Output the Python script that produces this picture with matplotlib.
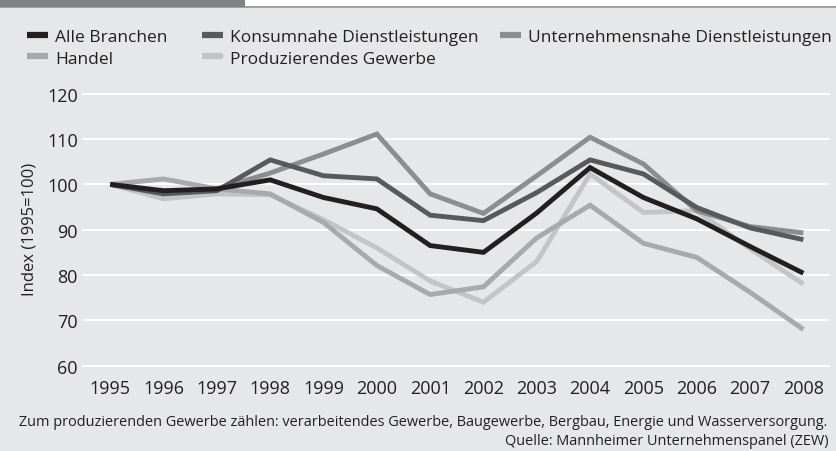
import matplotlib
matplotlib.use("Agg")
import matplotlib.pyplot as plt
from matplotlib.lines import Line2D
from matplotlib.patches import Rectangle

plt.rcParams['font.family'] = ['Open Sans', 'DejaVu Sans']

years = [1995, 1996, 1997, 1998, 1999, 2000, 2001, 2002, 2003, 2004, 2005, 2006, 2007, 2008]
alle = [100, 98.6, 99.0, 101.0, 97.1, 94.6, 86.5, 85.0, 93.7, 103.7, 97.1, 92.4, 86.3, 80.4]
konsum = [100, 97.9, 98.6, 105.4, 101.9, 101.2, 93.2, 92.0, 98.2, 105.4, 102.3, 94.9, 90.4, 87.8]
unternehmen = [100, 98.2, 99.0, 102.5, 106.7, 111.1, 97.9, 93.6, 101.9, 110.4, 104.5, 94.2, 90.7, 89.3]
handel = [100, 101.2, 99.0, 97.9, 91.6, 82.1, 75.7, 77.4, 88.2, 95.4, 87.0, 83.9, 76.2, 68.0]
produz = [100, 96.8, 97.9, 97.7, 92.2, 86.0, 78.7, 74.0, 83.0, 102.3, 93.8, 94.2, 85.8, 78.0]

labels = ["Alle Branchen", "Konsumnahe Dienstleistungen", "Unternehmensnahe Dienstleistungen",
          "Handel", "Produzierendes Gewerbe"]
colors = ["#231f20", "#58595b", "#8c8d8f", "#a7a9ac", "#c3c4c6"]
yticks = [60, 70, 80, 90, 100, 110, 120]

W, H = 837, 452
fig = plt.figure(figsize=(W / 100, H / 100), dpi=100)
fig.patch.set_facecolor("#e6e7e8")

# header decoration
fig.patches.append(Rectangle((0, 1 - 9 / H), 1, 9 / H, transform=fig.transFigure,
                             facecolor="#a0a1a3", edgecolor="none"))
fig.patches.append(Rectangle((245 / W, 1 - 7 / H), 1, 7 / H, transform=fig.transFigure,
                             facecolor="white", edgecolor="none"))
fig.patches.append(Rectangle((0, 1 - 8 / H), 245 / W, 8 / H, transform=fig.transFigure,
                             facecolor="#808184", edgecolor="none"))

ymin, ymax = 59.5, 121.0
px_per_unit = (366.7 - 94.7) / 60
top_px = 94.7 - (ymax - 120) * px_per_unit
bot_px = 366.7 + (60 - ymin) * px_per_unit
left_px, right_px = 82, 830
ax = fig.add_axes([left_px / W, 1 - bot_px / H, (right_px - left_px) / W, (bot_px - top_px) / H])
ax.set_facecolor("#e6e7e8")

series = [alle, konsum, unternehmen, handel, produz]
order = [4, 3, 2, 1, 0]
for i in order:
    ax.plot(years, series[i], color=colors[i], lw=3.5, solid_joinstyle="miter",
            solid_capstyle="butt", zorder=3 + (5 - i))

ax.set_xlim(1994.47, 2008.5)
ax.set_ylim(ymin, ymax)
ax.set_yticks(yticks)
ax.set_xticks(years)
ax.set_xticklabels([str(y) for y in years])
ax.grid(axis="y", color="white", lw=1.3)
ax.grid(axis="x", visible=False)
ax.set_axisbelow(True)
for s in ax.spines.values():
    s.set_visible(False)
ax.tick_params(length=0, labelsize=13, colors="#231f20", pad=3)
ax.tick_params(axis="x", pad=8)
ax.set_ylabel("Index (1995=100)", fontsize=12, color="#231f20", labelpad=7)

handles = [Line2D([], [], color=c, lw=4.5, solid_capstyle="butt") for c in colors]
columns = [([0, 3], 27), ([1, 4], 202), ([2], 500)]
for idx, xpx in columns:
    leg = fig.legend([handles[i] for i in idx], [labels[i] for i in idx], ncol=1,
                     loc="upper left", bbox_to_anchor=(xpx / W, 1 - 30 / H), frameon=False,
                     fontsize=12.5, handlelength=1.2, handletextpad=0.4,
                     labelspacing=0.3, borderpad=0, borderaxespad=0)
    for t in leg.get_texts():
        t.set_color("#231f20")

fig.text(827 / W, 1 - 423 / H,
         "Zum produzierenden Gewerbe zählen: verarbeitendes Gewerbe, Baugewerbe, Bergbau, Energie und Wasserversorgung.",
         ha="right", va="center", fontsize=10.45, color="#231f20")
fig.text(829 / W, 1 - 442 / H, "Quelle: Mannheimer Unternehmenspanel (ZEW)",
         ha="right", va="center", fontsize=10.45, color="#231f20")

fig.savefig("out.png", dpi=100, facecolor=fig.get_facecolor())
